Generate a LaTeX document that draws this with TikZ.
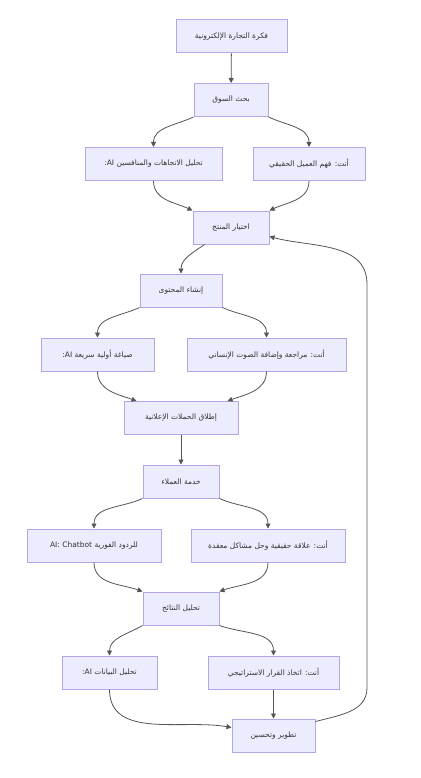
\documentclass[tikz,border=0pt]{standalone}
\usepackage{fontspec}
\newfontfamily\arabicfont[Script=Arabic]{DejaVu Sans}
\TeXXeTstate=1
\usetikzlibrary{arrows.meta}
\definecolor{boxfill}{HTML}{ECECFF}
\definecolor{boxline}{HTML}{B6A5E6}
\definecolor{edgegray}{HTML}{555555}
\definecolor{textgray}{HTML}{333333}
\newcommand{\ar}[1]{\beginR #1\endR}

\begin{document}
\begin{tikzpicture}[x=1pt, y=1pt,
    box/.style={draw=boxline, fill=boxfill, line width=1pt, minimum height=33pt,
        inner xsep=2pt, text=textgray, font=\arabicfont\fontsize{7.5}{9}\selectfont},
    arr/.style={draw=edgegray, line width=0.8pt, -{Triangle[length=5pt,width=5pt]}}]
    \useasboundingbox[fill=white] (0,0) rectangle (420,-778);

    \node[box, minimum width=111pt] (idea) at (231.5,-36.5) {\ar{فكرة التجارة الإلكترونية}};
    \node[box, minimum width=74pt] (market) at (231,-100) {\ar{بحث السوق}};
    \node[box, minimum width=137pt] (aitrend) at (153.5,-164) {:AI \ar{تحليل الاتجاهات والمنافسين}};
    \node[box, minimum width=112pt] (you1) at (309,-164) {\ar{أنت: فهم العميل الحقيقي}};
    \node[box, minimum width=76pt] (product) at (231,-227.5) {\ar{اختيار المنتج}};

    \node[box, minimum width=82pt] (content) at (181,-290.5) {\ar{إنشاء المحتوى}};
    \node[box, minimum width=113pt] (aidraft) at (97.5,-354.5) {:AI \ar{صياغة أولية سريعة}};
    \node[box, minimum width=159pt] (you2) at (266.5,-354.5) {\ar{أنت: مراجعة وإضافة الصوت الإنساني}};
    \node[box, minimum width=114pt] (launch) at (181,-418) {\ar{إطلاق الحملات الإعلانية}};

    \node[box, minimum width=76pt] (service) at (181,-481.5) {\ar{خدمة العملاء}};
    \node[box, minimum width=134pt] (aibot) at (94,-545.5) {AI: Chatbot \ar{للردود الفورية}};
    \node[box, minimum width=154pt] (you3) at (268,-545.5) {\ar{أنت: علاقة حقيقية وحل مشاكل معقدة}};
    \node[box, minimum width=76pt] (results) at (181,-608.5) {\ar{تحليل النتائج}};

    \node[box, minimum width=95pt] (aidata) at (109.5,-672.5) {:AI \ar{تحليل البيانات}};
    \node[box, minimum width=131pt] (you4) at (273.5,-672.5) {\ar{أنت: اتخاذ القرار الاستراتيجي}};
    \node[box, minimum width=83pt] (improve) at (273.5,-735.5) {\ar{تطوير وتحسين}};

    \coordinate (loopbot) at (367,-688);
    \coordinate (looptop) at (367,-284);

    \draw[arr] (idea) -- (market);
    \draw[arr] (market.south west) to[out=-155, in=90] (aitrend.north);
    \draw[arr] (market.south east) to[out=-25, in=90] (you1.north);
    \draw[arr] (aitrend.south) to[out=-90, in=155] (product.north west);
    \draw[arr] (you1.south) to[out=-90, in=25] (product.north east);
    \draw[arr] ([xshift=12pt]product.south west) to[out=-145, in=90] (content.north);

    \draw[arr] (content.south west) to[out=-155, in=90] (aidraft.north);
    \draw[arr] (content.south east) to[out=-25, in=90] (you2.north);
    \draw[arr] (aidraft.south) to[out=-90, in=160] ([xshift=13pt]launch.north west);
    \draw[arr] (you2.south) to[out=-90, in=20] ([xshift=-11pt]launch.north east);
    \draw[arr] (launch) -- (service);

    \draw[arr] (service.south west) to[out=-155, in=90] (aibot.north);
    \draw[arr] (service.south east) to[out=-25, in=90] (you3.north);
    \draw[arr] (aibot.south) to[out=-90, in=160] (results.north west);
    \draw[arr] (you3.south) to[out=-90, in=20] (results.north east);
    \draw[arr] (results.south west) to[out=-150, in=90] (aidata.north);
    \draw[arr] (results.south east) to[out=-20, in=90] (you4.north);

    \draw[arr] (aidata.south) to[out=-90, in=170] ([yshift=8pt]improve.west);
    \draw[arr] (you4) -- (improve);
    \draw[arr] ([yshift=14pt]improve.east) to[out=15, in=-90] (loopbot) -- (looptop)
        to[out=90, in=-15] ([yshift=-9pt]product.east);
\end{tikzpicture}
\end{document}
